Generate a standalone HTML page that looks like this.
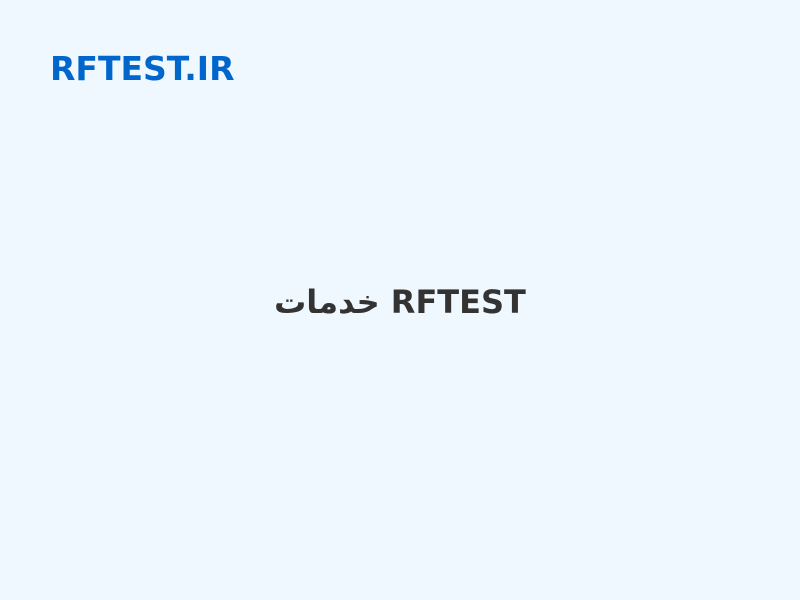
<!DOCTYPE html>
<html><head><meta charset="utf-8"><style>
html,body{margin:0;padding:0;width:800px;height:600px;background:#f0f8ff;overflow:hidden}
.t{position:absolute;left:50px;top:49px;font:bold 33px "DejaVu Sans","Liberation Sans",sans-serif;color:#0066cc;line-height:40px;margin:0}
.c{position:absolute;left:0;width:800px;top:280px;text-align:center;font:bold 32px "DejaVu Sans","Liberation Sans",sans-serif;color:#333;line-height:44px}
</style></head><body>
<div class="t">RFTEST.IR</div>
<div class="c">خدمات RFTEST</div>
</body></html>
